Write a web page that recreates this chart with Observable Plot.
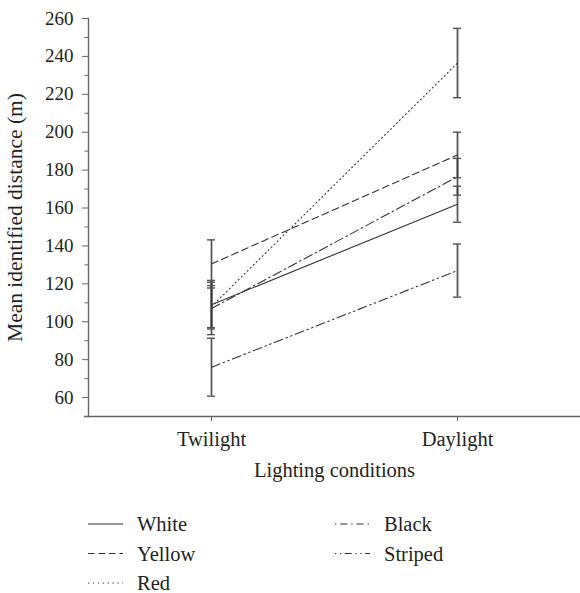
<!DOCTYPE html>
<html>
<head>
<meta charset="utf-8">
<script src="https://cdn.jsdelivr.net/npm/d3@7"></script>
<script src="https://cdn.jsdelivr.net/npm/@observablehq/plot@0.6"></script>
<style>
  html, body { margin: 0; padding: 0; background: #fff; }
  #chart svg { display: block; }
  #legend svg { display: block; }
</style>
</head>
<body>
<div id="chart"></div>
<div id="legend"></div>
<script>
// ---- data ----
const conditions = ["Twilight", "Daylight"];
const seriesNames = ["White", "Yellow", "Red", "Black", "Striped"];
const twilightMeans = [109, 130.5, 108, 107, 76];
const daylightMeans = [162, 188, 236.5, 176.5, 127];
const twilightErrors = [12.8, 12.7, 11.1, 13.8, 15.3];
const daylightErrors = [9.5, 12, 18.3, 9.7, 14];
const yMajorTicks = [60, 80, 100, 120, 140, 160, 180, 200, 220, 240, 260];
const yMinorTicks = [50, 70, 90, 110, 130, 150, 170, 190, 210, 230, 250];
const yDomain = [50, 260];

// ---- styles ----
const dashStyles = {
  White: null,
  Yellow: "7,4",
  Red: "1,3.2",
  Black: "9,3.5,1.5,3.5",
  Striped: "9,3.5,1.5,3.5,1.5,3.5"
};
const legendDash = {
  White: null,
  Yellow: "6.5,4",
  Red: "1.3,3.6",
  Black: "1.3,4,7,4",
  Striped: "1.3,3.6,1.3,3.6,7,3.6"
};
const FONT = "'Liberation Serif', 'DejaVu Serif', serif";
const TEXT = "#231f20";
const AXIS = "#666";

// ---- table ----
const rows = [];
seriesNames.forEach((s, i) => {
  const ms = [twilightMeans[i], daylightMeans[i]];
  const es = [twilightErrors[i], daylightErrors[i]];
  conditions.forEach((c, j) => {
    rows.push({series: s, condition: c, value: ms[j], lo: ms[j] - es[j], hi: ms[j] + es[j]});
  });
});

const lineMarks = seriesNames.map(s =>
  Plot.line(rows.filter(d => d.series === s), {
    x: "condition", y: "value", stroke: "#333", strokeWidth: 1.1,
    strokeDasharray: dashStyles[s]
  })
);

const chart = Plot.plot({
  width: 580,
  height: 505,
  marginLeft: 88,
  marginRight: 0,
  marginTop: 18,
  marginBottom: 89,
  style: {fontFamily: FONT, fontSize: "20px", color: TEXT, background: "#fff"},
  x: {type: "point", domain: conditions, padding: 0.5},
  y: {domain: yDomain},
  marks: [
    Plot.axisY(yMajorTicks, {
      tickSize: 6, tickPadding: 9, stroke: AXIS, fill: TEXT, fontSize: 19,
      label: null
    }),
    Plot.axisY({
      ticks: [], tickSize: 0, fontSize: 21.5, fill: TEXT,
      label: "Mean identified distance (m)", labelAnchor: "center", labelOffset: 82, labelArrow: "none"
    }),
    Plot.axisY(yMinorTicks, {tickSize: 3.5, stroke: AXIS, tickFormat: () => "", label: null}),
    Plot.axisX(conditions, {
      tickSize: 5, tickPadding: 10, stroke: AXIS, fill: TEXT, fontSize: 20.5,
      label: "Lighting conditions", labelAnchor: "center", labelOffset: 60, labelArrow: "none"
    }),
    Plot.frame({anchor: "left", stroke: AXIS, strokeWidth: 1.4}),
    Plot.frame({anchor: "bottom", stroke: AXIS, strokeWidth: 1.4, insetLeft: -4}),
    ...lineMarks,
    Plot.ruleX(rows, {x: "condition", y1: "lo", y2: "hi", stroke: "#333", strokeWidth: 1.7, strokeOpacity: 0.85}),
    Plot.ruleY(rows, {x1: "condition", x2: "condition", y: "lo", stroke: "#555", strokeWidth: 1.4, insetLeft: -4, insetRight: -4}),
    Plot.ruleY(rows, {x1: "condition", x2: "condition", y: "hi", stroke: "#555", strokeWidth: 1.4, insetLeft: -4, insetRight: -4})
  ]
});
document.getElementById("chart").appendChild(chart);

// ---- legend ----
const legendOrder = [["White", "Yellow", "Red"], ["Black", "Striped"]];
const colX = [88, 335];
const rowY0 = 19, rowStep = 29.5;
const lsvg = d3.select("#legend").append("svg")
  .attr("width", 580).attr("height", 88)
  .style("font-family", FONT).style("font-size", "20.5px");
legendOrder.forEach((col, ci) => {
  col.forEach((s, ri) => {
    const y = rowY0 + ri * rowStep;
    lsvg.append("line")
      .attr("x1", colX[ci]).attr("x2", colX[ci] + 35)
      .attr("y1", y).attr("y2", y)
      .attr("stroke", "#333").attr("stroke-width", 1.2)
      .attr("stroke-dasharray", legendDash[s]);
    lsvg.append("text")
      .attr("x", colX[ci] + 49).attr("y", y).attr("dy", "0.35em")
      .attr("fill", TEXT).text(s);
  });
});
</script>
</body>
</html>
